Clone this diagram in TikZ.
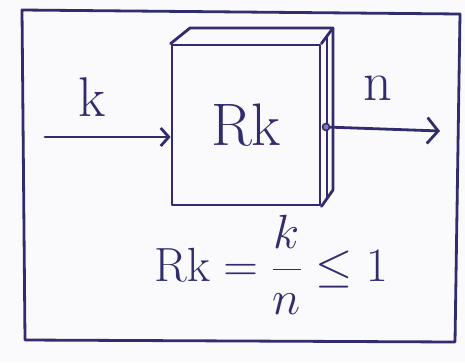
\RequirePackage{fix-cm}
\documentclass[tikz,border=0pt]{standalone}
\usepackage{amsmath}
\usetikzlibrary{arrows.meta}
\definecolor{ink}{RGB}{48,44,110}
\definecolor{paper}{RGB}{250,250,252}
\begin{document}
\begin{tikzpicture}[x=1pt,y=-1pt,
  line width=2.8pt, draw=ink, text=ink, line join=round, line cap=round,
  ink/.style={draw=ink},
  lbl/.style={text=ink, inner sep=0pt},
  flow/.style={draw=ink, -{Straight Barb[length=8pt,width=18pt,line width=2.8pt]}},
  port/.style={circle, draw=ink, line width=1.6pt, minimum size=7pt, inner sep=0pt, fill=ink!60}]
\fill[paper] (0,0) rectangle (465,362);
\useasboundingbox (0,0) rectangle (465,362);
% outer frame
\draw[ink] (22,10) -- (460,14) -- (455,342) -- (25,340) -- cycle;
% block
\node[draw=ink, fill=paper, minimum width=148pt, minimum height=160pt, inner sep=0pt,
      font=\fontsize{60}{64}\selectfont, text=ink] (box) at (246,125) {Rk};
\coordinate (btl) at (190,28);
\coordinate (btr) at (333,28);
\coordinate (bbr) at (333,190);
\draw[ink] (box.north west) -- (btl) -- (btr) -- (bbr) -- (box.south east);
\draw[ink] (box.north east) -- (btr);
\draw[ink, line width=1.4pt] (327,37) -- (327,197);
% input
\coordinate (in) at (45,137);
\draw[flow] (in) -- (in -| box.west);
\node[lbl, font=\fontsize{56}{60}\selectfont] (k) at (92,97) {k};
% output
\node[port] (p) at (326,127) {};
\coordinate (out) at (440,131);
\draw[flow, -{Straight Barb[length=11pt,width=26pt,line width=2.8pt]}] (p) -- (out);
\node[lbl, font=\fontsize{56}{60}\selectfont] (n) at (378,88) {n};
% formula
\node[text=ink, font=\fontsize{48}{52}\selectfont, inner sep=0pt] (f) at (271,265)
  {$\mathrm{Rk} = \dfrac{k}{n} \leq 1$};
\end{tikzpicture}
\end{document}
